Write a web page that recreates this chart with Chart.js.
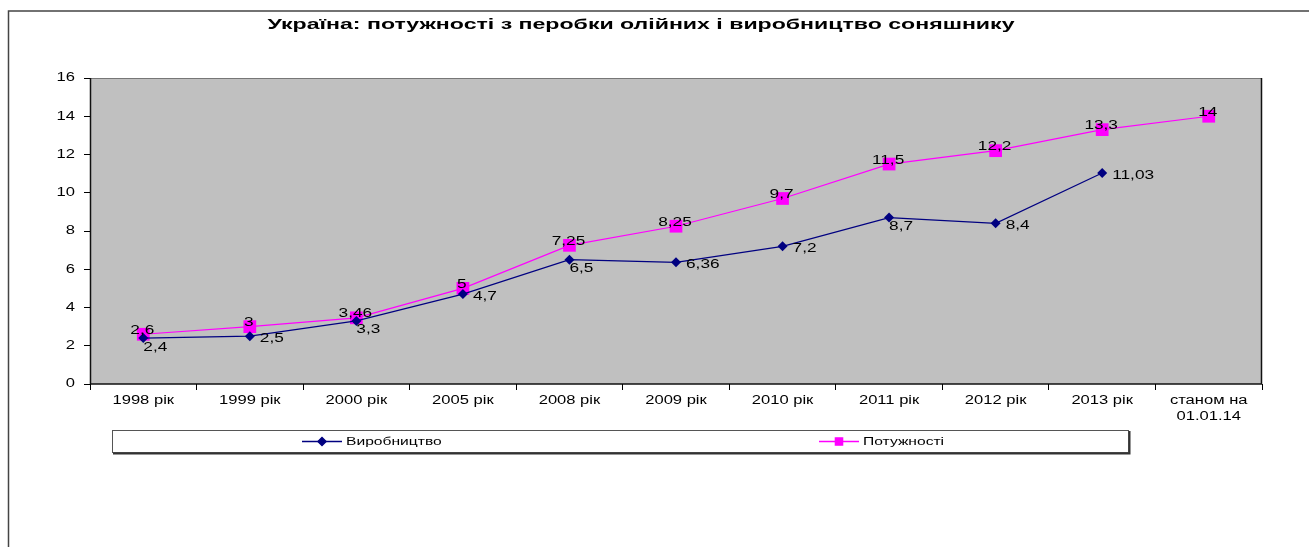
<!DOCTYPE html>
<html>
<head>
<meta charset="utf-8">
<script src="https://cdn.jsdelivr.net/npm/chart.js@4/dist/chart.umd.min.js"></script>
<style>
  html, body { margin: 0; padding: 0; background: #fff; }
  #wrap { width: 1309px; height: 547px; }
</style>
</head>
<body>
<div id="wrap"><canvas id="chart" width="1309" height="547"></canvas></div>
<script>
// дані ======================================================================
const categories = ["1998 рік", "1999 рік", "2000 рік", "2005 рік", "2008 рік", "2009 рік",
  "2010 рік", "2011 рік", "2012 рік", "2013 рік", ["станом на", "01.01.14"]];
const vyrobnytstvo = [2.4, 2.5, 3.3, 4.7, 6.5, 6.36, 7.2, 8.7, 8.4, 11.03, null];
const potuzhnosti = [2.6, 3, 3.46, 5, 7.25, 8.25, 9.7, 11.5, 12.2, 13.3, 14];
const yTicks = [0, 2, 4, 6, 8, 10, 12, 14, 16];
// де стоїть підпис синьої лінії (праворуч чи знизу)
const navyLabelPos = ["below", "right", "below", "right", "below", "right",
  "right", "below", "right", "right", "right"];

const titleText = "Україна: потужності з перобки олійних і виробництво соняшнику";
const FONT = "'Liberation Sans', Arial, sans-serif";
const SX = 1.38; // текст у оригіналі розтягнутий по ширині

const fmt = (v) => String(v).replace(".", ",");

// малює текст, розтягнутий по горизонталі
function wideText(ctx, text, x, y, align, sx) {
  ctx.save();
  ctx.translate(x, y);
  ctx.scale(sx, 1);
  ctx.textAlign = align;
  ctx.fillText(text, 0, 0);
  ctx.restore();
}

// фон, рамка, заголовок
const backdrop = {
  id: "backdrop",
  beforeDraw(chart) {
    const { ctx, chartArea: a } = chart;
    ctx.save();
    ctx.fillStyle = "#fff";
    ctx.fillRect(0, 0, chart.width, chart.height);
    // зовнішня рамка
    ctx.strokeStyle = "#444";
    ctx.lineWidth = 1.5;
    ctx.beginPath();
    ctx.moveTo(8.5, chart.height);
    ctx.lineTo(8.5, 11);
    ctx.lineTo(chart.width, 11);
    ctx.stroke();
    // сіра область
    ctx.fillStyle = "#c0c0c0";
    ctx.fillRect(a.left, a.top, a.right - a.left, a.bottom - a.top);
    ctx.strokeStyle = "#777";
    ctx.lineWidth = 1;
    ctx.beginPath();
    ctx.moveTo(a.left, a.top + 0.5);
    ctx.lineTo(a.right, a.top + 0.5);
    ctx.stroke();
    ctx.strokeStyle = "#111";
    ctx.lineWidth = 1.5;
    ctx.beginPath();
    ctx.moveTo(a.left + 0.5, a.top);
    ctx.lineTo(a.left + 0.5, a.bottom);
    ctx.lineTo(a.right - 0.5, a.bottom);
    ctx.lineTo(a.right - 0.5, a.top);
    ctx.stroke();
    // заголовок
    ctx.fillStyle = "#000";
    ctx.font = "bold 15px " + FONT;
    ctx.textBaseline = "middle";
    const w = ctx.measureText(titleText).width;
    wideText(ctx, titleText, 641, 25, "center", 747 / w);
    ctx.restore();
  },
};

// підписи осей (розтягнутий шрифт)
const axisLabels = {
  id: "axisLabels",
  afterDraw(chart) {
    const { ctx, scales: { x, y } } = chart;
    ctx.save();
    ctx.fillStyle = "#000";
    ctx.font = "12px " + FONT;
    ctx.textBaseline = "middle";
    yTicks.forEach((v) => {
      wideText(ctx, String(v), x.left - 15, y.getPixelForValue(v), "right", SX);
    });
    categories.forEach((lab, i) => {
      const px = x.getPixelForValue(i);
      const lines = Array.isArray(lab) ? lab : [lab];
      lines.forEach((ln, j) => wideText(ctx, ln, px, y.bottom + 17 + j * 16, "center", SX));
    });
    ctx.restore();
  },
};

// підписи значень
const pointLabels = {
  id: "pointLabels",
  afterDatasetsDraw(chart) {
    const { ctx } = chart;
    ctx.save();
    ctx.font = "12.5px " + FONT;
    ctx.fillStyle = "#000";
    ctx.textBaseline = "middle";
    chart.getDatasetMeta(0).data.forEach((pt, i) => {
      const v = vyrobnytstvo[i];
      if (v == null) return;
      if (navyLabelPos[i] === "below") {
        wideText(ctx, fmt(v), pt.x + 12, pt.y + 9, "center", SX);
      } else {
        wideText(ctx, fmt(v), pt.x + 10, pt.y + 2, "left", SX);
      }
    });
    chart.getDatasetMeta(1).data.forEach((pt, i) => {
      const v = potuzhnosti[i];
      if (v == null) return;
      wideText(ctx, fmt(v), pt.x - 1, pt.y - 4, "center", SX);
    });
    ctx.restore();
  },
};

// легенда в рамці
const boxLegend = {
  id: "boxLegend",
  afterDraw(chart) {
    const { ctx } = chart;
    const ds = chart.data.datasets;
    ctx.save();
    ctx.fillStyle = "#fff";
    ctx.fillRect(112, 430, 1016, 22);
    ctx.strokeStyle = "#555";
    ctx.lineWidth = 1;
    ctx.strokeRect(112.5, 430.5, 1016, 22);
    ctx.strokeStyle = "#333";
    ctx.lineWidth = 2;
    ctx.beginPath();
    ctx.moveTo(1129.5, 431);
    ctx.lineTo(1129.5, 453.5);
    ctx.lineTo(113, 453.5);
    ctx.stroke();
    const items = [{ x: 302, d: ds[0] }, { x: 819, d: ds[1] }];
    ctx.font = "11px " + FONT;
    ctx.textBaseline = "middle";
    items.forEach(({ x, d }) => {
      const y = 441.5;
      ctx.strokeStyle = d.borderColor;
      ctx.lineWidth = 1.5;
      ctx.beginPath();
      ctx.moveTo(x, y);
      ctx.lineTo(x + 40, y);
      ctx.stroke();
      Chart.helpers.drawPoint(ctx, {
        pointStyle: d.pointStyle,
        radius: d.pointStyle === "rect" ? 5 : 4,
        borderWidth: 1,
        rotation: 0,
      }, x + 20, y);
      ctx.fillStyle = d.borderColor;
      ctx.fill();
      ctx.fillStyle = "#000";
      wideText(ctx, d.label, x + 44, y, "left", 1.42);
    });
    ctx.restore();
  },
};

new Chart(document.getElementById("chart"), {
  type: "line",
  data: {
    labels: categories,
    datasets: [
      {
        label: "Виробництво",
        data: vyrobnytstvo,
        borderColor: "#000080",
        backgroundColor: "#000080",
        borderWidth: 1.2,
        pointStyle: "rectRot",
        pointRadius: 5,
        pointBorderWidth: 0,
        tension: 0,
        spanGaps: false,
      },
      {
        label: "Потужності",
        data: potuzhnosti,
        borderColor: "#ff00ff",
        backgroundColor: "#ff00ff",
        borderWidth: 1.2,
        pointStyle: "rect",
        pointRadius: 9,
        pointBorderWidth: 0,
        tension: 0,
      },
    ],
  },
  options: {
    responsive: false,
    animation: false,
    events: [],
    layout: { padding: { top: 78, right: 47, left: 0, bottom: 0 } },
    plugins: {
      legend: { display: false },
      title: { display: false },
      tooltip: { enabled: false },
    },
    scales: {
      x: {
        offset: true,
        grid: { offset: true, drawOnChartArea: false, drawTicks: true, tickLength: 6, color: "#000" },
        border: { display: false },
        ticks: { display: false, autoSkip: false, maxRotation: 0 },
        afterFit(scale) { scale.height = 163; },
      },
      y: {
        min: 0,
        max: 16,
        afterBuildTicks(scale) { scale.ticks = yTicks.map((v) => ({ value: v })); },
        grid: { drawOnChartArea: false, drawTicks: true, tickLength: 6, color: "#000" },
        border: { display: false },
        ticks: { display: false },
        afterFit(scale) { scale.width = 90; },
      },
    },
  },
  plugins: [backdrop, axisLabels, pointLabels, boxLegend],
});
</script>
</body>
</html>
